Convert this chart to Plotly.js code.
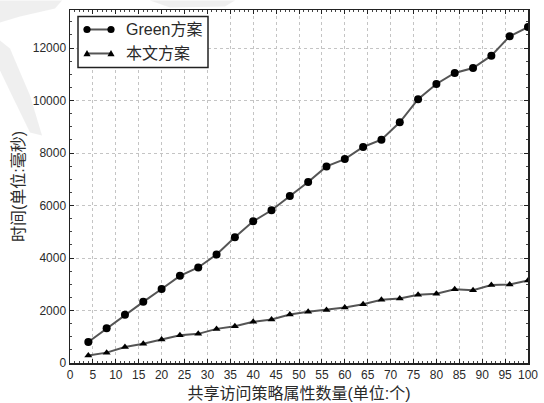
<!DOCTYPE html>
<html>
<head>
<meta charset="utf-8">
<script src="https://cdn.plot.ly/plotly-3.0.1.min.js"></script>
<style>
  html, body { margin: 0; padding: 0; background: #fff; }
  #chart { width: 544px; height: 403px; }
</style>
</head>
<body>
<div id="chart"></div>
<script>
// Number of shared access-policy attributes
const attrCounts = [4, 8, 12, 16, 20, 24, 28, 32, 36, 40, 44, 48, 52, 56, 60, 64, 68, 72, 76, 80, 84, 88, 92, 96, 100];
// Time in milliseconds for each scheme
const greenTimes = [800, 1320, 1840, 2330, 2820, 3320, 3640, 4135, 4795, 5400, 5820, 6360, 6895, 7490, 7770, 8230, 8510, 9170, 10050, 10630, 11050, 11240, 11710, 12450, 12800];
const oursTimes = [290, 395, 610, 730, 895, 1055, 1110, 1300, 1400, 1570, 1660, 1850, 1950, 2020, 2115, 2235, 2410, 2460, 2600, 2635, 2810, 2770, 2970, 2990, 3140];
const seriesNames = ['Green方案', '本文方案'];
const xTicks = [0, 5, 10, 15, 20, 25, 30, 35, 40, 45, 50, 55, 60, 65, 70, 75, 80, 85, 90, 95, 100];
const yTicks = [0, 2000, 4000, 6000, 8000, 10000, 12000];

const FONT = '"Liberation Sans", Arial, "Noto Sans CJK SC", sans-serif';
const LINE_COLOR = '#555555';
const MARK_COLOR = '#000000';
const TEXT_COLOR = '#2a2a2a';

// Page geometry of the plotting area
const W = 544, H = 403;
const M = { l: 70, r: 16, t: 9.5, b: 40.3 };
const plotW = W - M.l - M.r, plotH = H - M.t - M.b;
// pixel -> paper fraction helpers for the hand-built legend box
const px = x => (x - M.l) / plotW;
const py = y => (H - M.b - y) / plotH;

const traces = [
  {
    x: attrCounts, y: greenTimes, name: seriesNames[0],
    type: 'scatter', mode: 'lines+markers', showlegend: false,
    line: { color: LINE_COLOR, width: 2 },
    marker: { symbol: 'circle', size: 8, color: MARK_COLOR }
  },
  {
    x: attrCounts, y: oursTimes, name: seriesNames[1],
    type: 'scatter', mode: 'lines+markers', showlegend: false,
    line: { color: LINE_COLOR, width: 2 },
    marker: { symbol: 'triangle-up', size: 7, color: MARK_COLOR }
  }
];

const shapes = [];
const notes = [];

// Faint grey smudges of the scanned page in the upper-left margin
const pathFrom = pts => 'M' + pts.map(p => px(p[0]) + ',' + py(p[1])).join(' L') + ' Z';
[
  [[0, 0], [62, 0], [55, 8], [20, 16], [0, 22]],
  [[0, 40], [10, 48], [30, 95], [42, 135], [30, 132], [12, 95], [0, 70]],
  [[150, 0], [235, 0], [225, 6], [170, 7]]
].forEach(poly => shapes.push({
  type: 'path', xref: 'paper', yref: 'paper', layer: 'below',
  path: pathFrom(poly), line: { width: 0 }, fillcolor: '#d0d0d0', opacity: 0.35
}));

// Legend: a framed box with a short line sample capped by a marker at each end
const box = { x0: 78, x1: 208, y0: 16, y1: 67 };
shapes.push({
  type: 'rect', xref: 'paper', yref: 'paper', layer: 'above',
  x0: px(box.x0), x1: px(box.x1), y0: py(box.y1), y1: py(box.y0),
  line: { color: '#222', width: 1.5 }, fillcolor: '#ffffff'
});
const rows = [29, 53];
const sampleX = [87, 111];
rows.forEach((ry, i) => {
  shapes.push({
    type: 'line', xref: 'paper', yref: 'paper', layer: 'above',
    x0: px(sampleX[0]), x1: px(sampleX[1]), y0: py(ry), y1: py(ry),
    line: { color: LINE_COLOR, width: 2 }
  });
  sampleX.forEach(cx => {
    if (i === 0) {
      const r = 3.6;
      shapes.push({
        type: 'circle', xref: 'paper', yref: 'paper', layer: 'above',
        x0: px(cx - r), x1: px(cx + r), y0: py(ry + r), y1: py(ry - r),
        line: { width: 0 }, fillcolor: MARK_COLOR
      });
    } else {
      const s = 3.6;
      shapes.push({
        type: 'path', xref: 'paper', yref: 'paper', layer: 'above',
        path: pathFrom([[cx, ry - s], [cx + s, ry + s * 0.75], [cx - s, ry + s * 0.75]]),
        line: { width: 0 }, fillcolor: MARK_COLOR
      });
    }
  });
  notes.push({
    xref: 'paper', yref: 'paper', x: px(124), y: py(ry),
    xanchor: 'left', yanchor: 'middle', showarrow: false,
    text: seriesNames[i], font: { family: FONT, size: 16, color: TEXT_COLOR }
  });
});

const axisCommon = {
  showline: true, linecolor: '#222', linewidth: 1.5, mirror: 'ticks',
  ticks: 'inside', ticklen: 4, tickcolor: '#222',
  showgrid: true, gridcolor: '#c4c4c4', griddash: 'dot', gridwidth: 1,
  zeroline: false,
  tickfont: { family: FONT, size: 12, color: TEXT_COLOR }
};

const layout = {
  width: W, height: H,
  margin: M,
  paper_bgcolor: '#ffffff', plot_bgcolor: '#ffffff',
  font: { family: FONT, color: TEXT_COLOR },
  showlegend: false,
  shapes: shapes,
  annotations: notes,
  xaxis: Object.assign({}, axisCommon, {
    range: [0, 100], tickvals: xTicks, ticktext: xTicks.map(String),
    minor: { dtick: 1, ticks: 'inside', ticklen: 2, tickcolor: '#444', showgrid: false },
    title: { text: '共享访问策略属性数量(单位:个)', font: { family: FONT, size: 16, color: TEXT_COLOR }, standoff: 7 }
  }),
  yaxis: Object.assign({}, axisCommon, {
    range: [0, 13450], tickvals: yTicks, ticktext: yTicks.map(String),
    minor: { dtick: 500, ticks: 'inside', ticklen: 2, tickcolor: '#444', showgrid: false },
    title: { text: '时间(单位:毫秒)', font: { family: FONT, size: 16, color: TEXT_COLOR }, standoff: 4 }
  })
};

Plotly.newPlot('chart', traces, layout, { displayModeBar: false, staticPlot: true });
</script>
</body>
</html>
